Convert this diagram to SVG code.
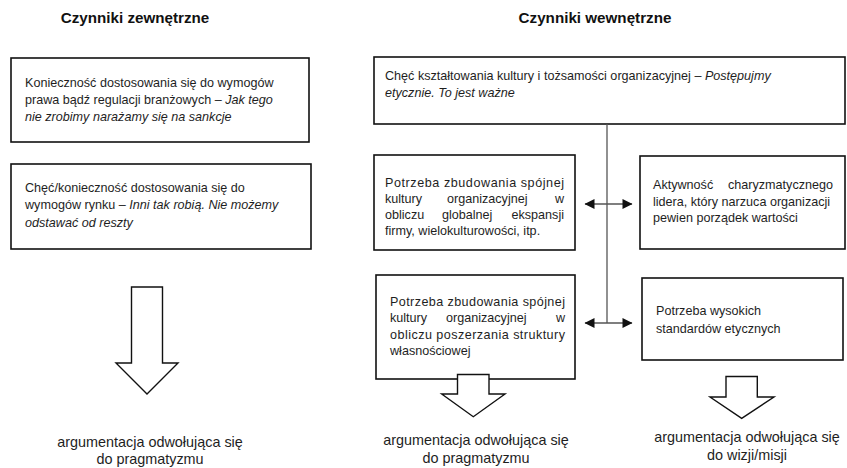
<svg xmlns="http://www.w3.org/2000/svg" width="847" height="468" viewBox="0 0 847 468">
<style>
  .box { fill: #fff; stroke: #111; stroke-width: 1.6; }
  .t { font-family: "Liberation Sans", Arial, sans-serif; font-size: 12.6px; fill: #1e1e1e; }
  .i { font-style: italic; }
  .title { font-family: "Liberation Sans", Arial, sans-serif; font-size: 15.2px; font-weight: bold; fill: #111; text-anchor: middle; }
  .res { font-family: "Liberation Sans", Arial, sans-serif; font-size: 14.4px; fill: #1e1e1e; text-anchor: middle; }
  .big { fill: #fff; stroke: #111; stroke-width: 1.4; stroke-linejoin: miter; }
  .conn { stroke: #555; stroke-width: 1.3; fill: none; }
  .end { text-anchor: end; }
</style>
<defs>
  <marker id="ah" viewBox="0 0 10 10" refX="9.5" refY="5" markerWidth="12" markerHeight="10" markerUnits="userSpaceOnUse" orient="auto-start-reverse">
    <path d="M0,0 L10,5 L0,10 Z" fill="#111"/>
  </marker>
</defs>
<rect width="847" height="468" fill="#fff"/>

<g id="title-ext">
  <text class="title" x="135" y="23">Czynniki zewnętrzne</text>
</g>
<g id="title-int">
  <text class="title" x="595" y="23">Czynniki wewnętrzne</text>
</g>

<g id="ext1">
  <rect class="box" x="11" y="58" width="298" height="84"/>
  <text class="t" x="25" y="87">Konieczność dostosowania się do wymogów</text>
  <text class="t" x="25" y="104">prawa bądź regulacji branżowych – <tspan class="i">Jak tego</tspan></text>
  <text class="t i" x="25" y="121">nie zrobimy narażamy się na sankcje</text>
</g>

<g id="ext2">
  <rect class="box" x="11" y="164" width="300" height="85"/>
  <text class="t" x="25" y="192">Chęć/konieczność dostosowania się do</text>
  <text class="t" x="25" y="209">wymogów rynku – <tspan class="i">Inni tak robią. Nie możemy</tspan></text>
  <text class="t i" x="25" y="227">odstawać od reszty</text>
</g>

<g id="int-top">
  <rect class="box" x="374" y="57" width="471" height="67"/>
  <text class="t" x="385" y="80">Chęć kształtowania kultury i tożsamości organizacyjnej – <tspan class="i">Postępujmy</tspan></text>
  <text class="t i" x="385" y="97">etycznie. To jest ważne</text>
</g>

<g id="int-global">
  <rect class="box" x="374" y="155" width="201" height="95"/>
  <text class="t" x="385" y="187" textLength="179" lengthAdjust="spacing">Potrzeba zbudowania spójnej</text>
  <text class="t" x="385" y="203">kultury</text>
  <text class="t" x="447" y="203">organizacyjnej</text>
  <text class="t end" x="564" y="203">w</text>
  <text class="t" x="385" y="219">obliczu</text>
  <text class="t" x="442" y="219">globalnej</text>
  <text class="t end" x="564" y="219">ekspansji</text>
  <text class="t" x="385" y="235">firmy, wielokulturowości, itp.</text>
</g>

<g id="int-leader">
  <rect class="box" x="640" y="156" width="205" height="93"/>
  <text class="t" x="653" y="189">Aktywność</text>
  <text class="t end" x="833" y="189">charyzmatycznego</text>
  <text class="t" x="653" y="206">lidera, który narzuca organizacji</text>
  <text class="t" x="653" y="222">pewien porządek wartości</text>
</g>

<g id="int-ownership">
  <rect class="box" x="376" y="275" width="199" height="104"/>
  <text class="t" x="390" y="306" textLength="175" lengthAdjust="spacing">Potrzeba zbudowania spójnej</text>
  <text class="t" x="390" y="322">kultury</text>
  <text class="t" x="446" y="322">organizacyjnej</text>
  <text class="t end" x="565" y="322">w</text>
  <text class="t" x="390" y="339" textLength="175" lengthAdjust="spacing">obliczu poszerzania struktury</text>
  <text class="t" x="390" y="355">własnościowej</text>
</g>

<g id="int-ethics">
  <rect class="box" x="642" y="278" width="201" height="82"/>
  <text class="t" x="656" y="315">Potrzeba wysokich</text>
  <text class="t" x="656" y="333">standardów etycznych</text>
</g>

<g id="connectors">
  <line class="conn" x1="607" y1="124" x2="607" y2="323"/>
  <line class="conn" x1="585" y1="204" x2="632" y2="204" marker-start="url(#ah)" marker-end="url(#ah)"/>
  <line class="conn" x1="585" y1="323" x2="632" y2="323" marker-start="url(#ah)" marker-end="url(#ah)"/>
</g>

<g id="arrow-ext">
  <path class="big" d="M131.5,287 L162.5,287 L162.5,363 L178,363 L147,394 L116,363 L131.5,363 Z"/>
  <text class="res" x="150" y="447">argumentacja odwołująca się</text>
  <text class="res" x="150" y="464">do pragmatyzmu</text>
</g>

<g id="arrow-int-pragm">
  <path class="big" d="M457.5,374.5 L489,374.5 L489,394 L505,394 L473.3,416.7 L441.7,394 L457.5,394 Z"/>
  <text class="res" x="476" y="445">argumentacja odwołująca się</text>
  <text class="res" x="476" y="463">do pragmatyzmu</text>
</g>

<g id="arrow-int-vision">
  <path class="big" d="M726,376.5 L757.3,376.5 L757.3,397 L774,397 L741.7,418.3 L710,397 L726,397 Z"/>
  <text class="res" x="747" y="442">argumentacja odwołująca się</text>
  <text class="res" x="747" y="460">do wizji/misji</text>
</g>
</svg>
